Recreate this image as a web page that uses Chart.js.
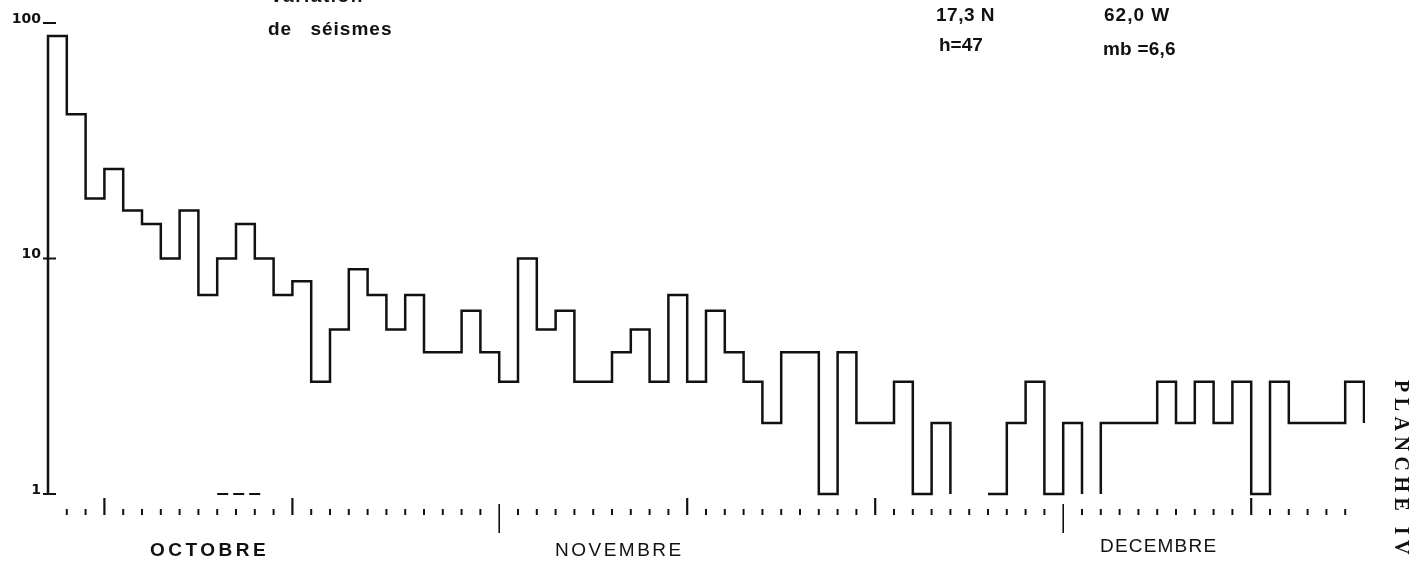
<!DOCTYPE html>
<html lang="fr">
<head>
<meta charset="utf-8">
<title>Variation du nombre de séismes</title>
<script src="https://cdn.jsdelivr.net/npm/chart.js@4.4.1/dist/chart.umd.min.js"></script>
<style>
    html, body { margin: 0; padding: 0; background: #fff; }
    #wrap { position: relative; width: 1415px; height: 564px; overflow: hidden; }
    #chart { position: absolute; left: 0; top: 0; }
    .txt {
        position: absolute;
        font-family: 'Liberation Sans', Arial, sans-serif;
        font-weight: bold;
        font-size: 19px;
        line-height: 1;
        color: #111;
        white-space: nowrap;
    }
    .month { letter-spacing: 3.5px; }
    .light { font-weight: normal; }
    #planche {
        font-family: 'Liberation Serif', 'DejaVu Serif', serif;
        font-size: 20px;
        letter-spacing: 5.5px;
        transform: rotate(90deg);
        transform-origin: 0 0;
    }
</style>
</head>
<body>
<div id="wrap">
    <canvas id="chart" width="1415" height="564"></canvas>
    <div class="txt" style="left:270px; top:-14px; letter-spacing:1.5px;">Variation</div>
    <div class="txt" style="left:268px; top:19px; letter-spacing:1px; word-spacing:12px;">de séismes</div>
    <div class="txt" style="left:936px; top:5px; letter-spacing:0.5px;">17,3 N</div>
    <div class="txt" style="left:1104px; top:5px; letter-spacing:1px;">62,0 W</div>
    <div class="txt" style="left:939px; top:35px;">h=47</div>
    <div class="txt" style="left:1103px; top:39px; letter-spacing:0.2px;">mb =6,6</div>
    <div class="txt month" style="left:150px; top:540px;">OCTOBRE</div>
    <div class="txt month light" style="left:555px; top:540px; letter-spacing:2.5px;">NOVEMBRE</div>
    <div class="txt month light" style="left:1100px; top:536px; letter-spacing:1.2px;">DECEMBRE</div>
    <div class="txt" id="planche" style="left:1412px; top:380px;">PLANCHE IV</div>
</div>
<script>
// Séisme du 8 octobre 1974 : nombre de répliques par jour
const startDate = new Date(1974, 9, 8);
const dailyCounts = [
    88, 41, 18, 24, 16, 14, 10, 16, 7, 10,
    14, 10, 7, 8, 3, 5, 9, 7, 5, 7,
    4, 4, 6, 4, 3, 10, 5, 6, 3, 3,
    4, 5, 3, 7, 3, 6, 4, 3, 2, 4,
    4, 1, 4, 2, 2, 3, 1, 2, 0, 0,
    1, 2, 3, 1, 2, 0, 2, 2, 2, 3,
    2, 3, 2, 3, 1, 3, 2, 2, 2, 3,
    2
];
const shownDays = 70;
const yTickValues = [1, 10, 100];
// trait tireté sous l'histogramme (jours 9 à 11)
const dashedMarkDays = [9, 11.4];

// construit l'histogramme en escalier à partir des comptes journaliers
function buildSteps(counts) {
    const pts = [{ x: 0, y: 1 }];
    counts.forEach((c, i) => {
        if (c > 0) {
            pts.push({ x: i, y: c }, { x: i + 1, y: c });
        } else {
            // jour sans séisme : on descend jusqu'en bas sans trait horizontal
            pts.push({ x: i, y: 1 }, { x: i + 0.5, y: null }, { x: i + 1, y: 1 });
        }
    });
    return pts;
}

// petites graduations : jours, 1/11/21 plus grands, début de mois long
const axisMarks = {
    id: 'axisMarks',
    afterDatasetsDraw(chart) {
        const ctx = chart.ctx;
        const xs = chart.scales.x;
        const ys = chart.scales.y;
        const left = xs.getPixelForValue(0);
        const bottom = ys.getPixelForValue(1);
        ctx.save();
        ctx.strokeStyle = '#111';
        ctx.lineCap = 'butt';

        // graduations de l'axe vertical
        ctx.lineWidth = 2;
        yTickValues.forEach(v => {
            const y = ys.getPixelForValue(v);
            ctx.beginPath();
            ctx.moveTo(left - 5, y);
            ctx.lineTo(left + 8, y);
            ctx.stroke();
        });

        for (let k = 1; k < shownDays; k++) {
            const d = new Date(startDate.getTime());
            d.setDate(d.getDate() + k);
            const day = d.getDate();
            const x = xs.getPixelForValue(k);
            let y0 = bottom + 15, y1 = bottom + 21;
            ctx.lineWidth = 2;
            if (day === 1) {
                y0 = bottom + 10; y1 = bottom + 39; ctx.lineWidth = 1.6;
            } else if (day === 11 || day === 21) {
                y0 = bottom + 4; y1 = bottom + 21; ctx.lineWidth = 2.2;
            }
            ctx.beginPath();
            ctx.moveTo(x, y0);
            ctx.lineTo(x, y1);
            ctx.stroke();
        }
        ctx.restore();
    }
};

new Chart(document.getElementById('chart'), {
    type: 'line',
    data: {
        datasets: [{
            label: 'Nombre de séismes par jour',
            data: buildSteps(dailyCounts),
            borderColor: '#111',
            borderWidth: 2.5,
            pointRadius: 0,
            tension: 0,
            spanGaps: false,
            fill: false,
            borderJoinStyle: 'miter',
            clip: { left: 5, top: 5, right: 1, bottom: 5 }
        }, {
            label: 'lacune',
            data: [{ x: dashedMarkDays[0], y: 1 }, { x: dashedMarkDays[1], y: 1 }],
            borderColor: '#111',
            borderWidth: 2,
            borderDash: [11, 5],
            pointRadius: 0,
            fill: false,
            clip: false
        }]
    },
    options: {
        responsive: false,
        animation: false,
        events: [],
        layout: { padding: { left: 0, right: 51, top: 23, bottom: 70 } },
        plugins: {
            legend: { display: false },
            tooltip: { enabled: false }
        },
        scales: {
            x: {
                type: 'linear',
                min: 0,
                max: shownDays,
                display: false
            },
            y: {
                type: 'logarithmic',
                min: 1,
                max: 100,
                afterBuildTicks: scale => {
                    scale.ticks = yTickValues.map(v => ({ value: v }));
                },
                afterFit: scale => { scale.width = 48; },
                border: { display: false },
                grid: { display: false, drawTicks: false },
                ticks: {
                    padding: 7,
                    labelOffset: -4,
                    color: '#111',
                    font: { family: 'DejaVu Sans', weight: 'bold', size: 14 },
                    callback: v => String(v)
                }
            }
        }
    },
    plugins: [axisMarks]
});
</script>
</body>
</html>
